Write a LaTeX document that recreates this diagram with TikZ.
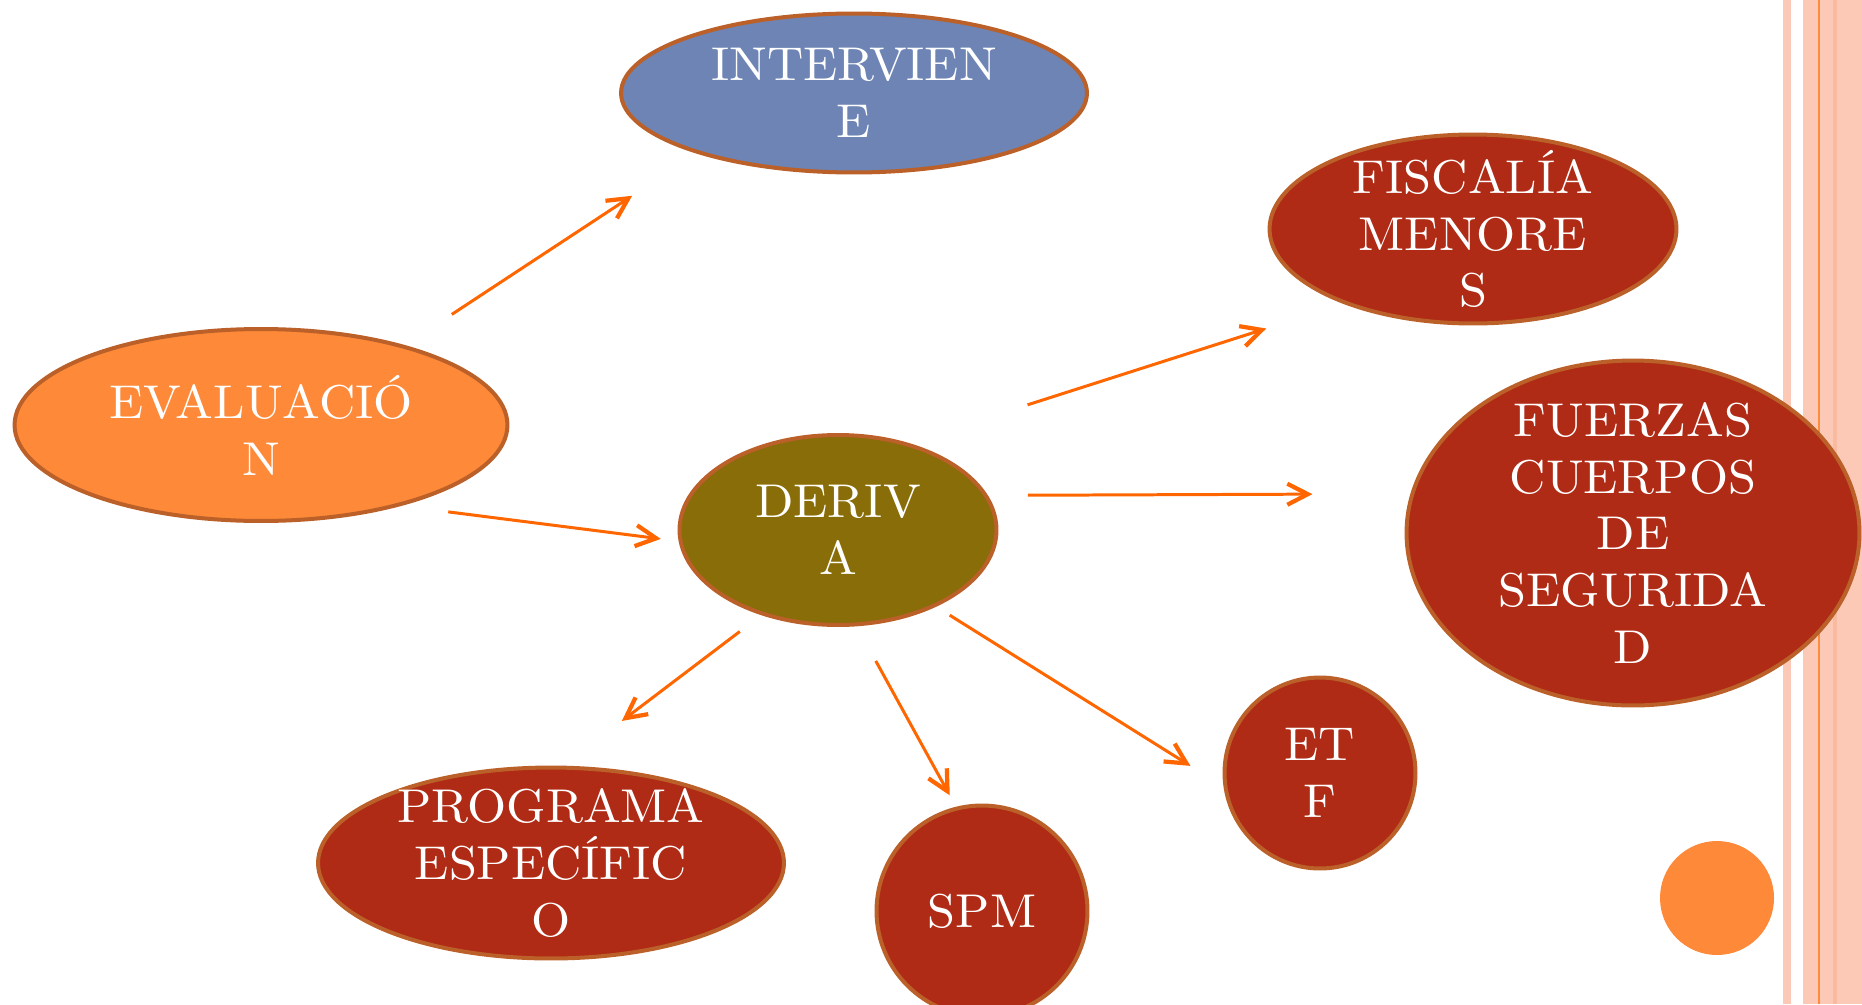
\documentclass[tikz,border=0pt]{standalone}
\usepackage{fontspec}
\usepackage{tikz}
\usetikzlibrary{arrows.meta,shapes.geometric}
\newfontfamily\lblfont{lmroman10-regular.otf}[FakeStretch=1.06]
\definecolor{edgec}{RGB}{187,96,40}
\definecolor{orangefill}{RGB}{253,137,57}
\definecolor{bluefill}{RGB}{109,132,180}
\definecolor{olivefill}{RGB}{137,109,8}
\definecolor{redfill}{RGB}{175,43,22}
\definecolor{arrowc}{RGB}{255,102,0}
\definecolor{peach}{RGB}{252,201,182}
\definecolor{peachdark}{RGB}{250,186,160}
\definecolor{stripeorange}{RGB}{255,140,60}
\tikzset{
	ell/.style={ellipse, draw=edgec, line width=0.08cm, inner sep=0pt},
	roundbox/.style={circle, draw=edgec, line width=0.08cm, inner sep=0pt},
	lbl/.style={text=white, align=center, inner sep=0pt, font=\lblfont\fontsize{27}{32.4}\selectfont},
	arrow/.style={-{Straight Barb[length=0.41cm,width=0.42cm,line width=2.4pt]}, draw=arrowc, line width=1.7pt}
}

\begin{document}
\begin{tikzpicture}[x=0.02cm, y=-0.02cm]
	\useasboundingbox (0,0) rectangle (1862,1004);
	% side stripes and dot
	\fill[peach] (1783,0) rectangle (1791,1004);
	\fill[peach] (1803,0) rectangle (1862,1004);
	\fill[stripeorange] (1818,0) rectangle (1820,1004);
	\fill[peachdark] (1833,0) rectangle (1837,1004);
	\fill[orangefill] (1717,898) circle (57);

	\node[ell, fill=bluefill, minimum width=9.32cm, minimum height=3.18cm, label={[lbl]center:{INTERVIEN\\E}}] (interv) at (854,93) {};
	\node[ell, fill=redfill, minimum width=8.14cm, minimum height=3.78cm, label={[lbl]center:{FISCALÍA\\MENORE\\S}}] (fiscalia) at (1473,229) {};
	\node[ell, fill=orangefill, minimum width=9.86cm, minimum height=3.84cm, label={[lbl]center:{EVALUACIÓ\\N}}] (evaluacion) at (261,425) {};
	\node[ell, fill=olivefill, minimum width=6.34cm, minimum height=3.80cm, label={[lbl]center:{DERIV\\A}}] (deriva) at (838,530) {};
	\node[ell, fill=redfill, minimum width=9.06cm, minimum height=6.90cm, label={[lbl]center:{FUERZAS\\CUERPOS\\DE\\SEGURIDA\\D}}] (fuerzas) at (1633,533) {};
	\node[ell, fill=redfill, minimum width=9.32cm, minimum height=3.82cm, label={[lbl]center:{PROGRAMA\\ESPECÍFIC\\O}}] (programa) at (551,863) {};
	\node[roundbox, fill=redfill, minimum size=4.22cm, label={[lbl]center:{SPM}}] (spm) at (982,911) {};
	\node[roundbox, fill=redfill, minimum size=3.82cm, label={[lbl]center:{ET\\F}}] (etf) at (1320,773) {};

	\draw[arrow, shorten <=1.12cm, shorten >=1.54cm] (evaluacion.29.3) -- (interv.201.2);
	\draw[arrow, shorten <=0.95cm, shorten >=0.36cm] (evaluacion.330.7) -- (deriva.184.9);
	\draw[arrow, shorten <=2.50cm, shorten >=1.62cm] (deriva.51.4) -- (fiscalia.210.6);
	\draw[arrow, shorten <=0.80cm, shorten >=1.96cm] (deriva.13.6) -- (fuerzas.170.4);
	\draw[arrow, shorten <=0.32cm, shorten >=0.78cm] (deriva.322.4) -- (etf.188.1);
	\draw[arrow, shorten <=0.79cm, shorten >=0.26cm] (deriva.281.1) -- (spm.104);
	\draw[arrow, shorten <=0.54cm, shorten >=1.48cm] (deriva.228.7) -- (programa.83.3);
\end{tikzpicture}
\end{document}
